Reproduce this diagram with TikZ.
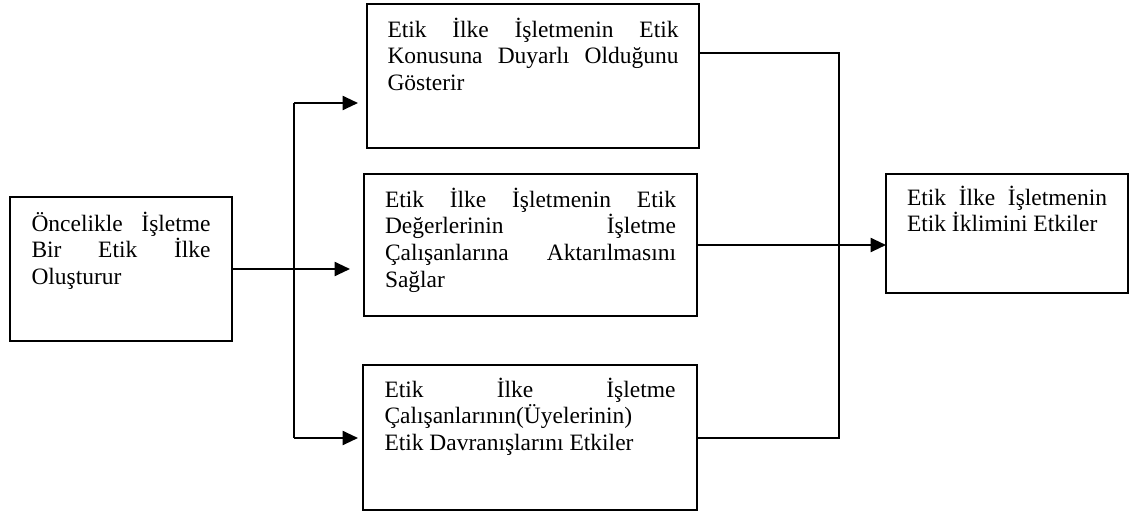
\documentclass[tikz,border=0pt]{standalone}
\usepackage{fontspec}
\setmainfont{Liberation Serif}
\usetikzlibrary{arrows.meta}
\hyphenpenalty=10000
\exhyphenpenalty=10000
\tikzset{
	stepbox/.style={draw, line width=1.5pt, anchor=north west, outer sep=0pt, inner ysep=0pt, font=\fontsize{17.6}{20}\selectfont},
	link/.style={line width=1.5pt},
	flow/.style={link, -{Triangle[length=11.5pt,width=10.5pt]}}
}
\begin{document}
\begin{tikzpicture}[x=0.75pt,y=-0.75pt]
			\newcommand{\boxtext}[4]{
				\parbox[t][#2][t]{#1}{\rule{0pt}{#3}#4}
			}
			\useasboundingbox (0,0) rectangle (1129,511);
			%Starting box on the left
			\node [stepbox, inner xsep=16.125pt] (start) at (10,197) {\boxtext{134.25pt}{108pt}{25.5pt}{Öncelikle İşletme\linebreak Bir Etik İlke\linebreak Oluşturur}};
			%The three middle boxes
			\node [stepbox, inner xsep=15.375pt] (ruleA) at (367,4) {\boxtext{218.25pt}{108pt}{24.75pt}{Etik İlke İşletmenin Etik\linebreak Konusuna Duyarlı Olduğunu\linebreak Gösterir}};
			\node [stepbox, inner xsep=15.75pt] (ruleB) at (364,174) {\boxtext{218.25pt}{106.5pt}{24.75pt}{Etik İlke İşletmenin Etik\linebreak Değerlerinin İşletme\linebreak Çalışanlarına Aktarılmasını\linebreak Sağlar}};
			\node [stepbox, inner xsep=16.125pt] (ruleC) at (363,365) {\boxtext{218.25pt}{108.75pt}{24pt}{Etik İlke İşletme\linebreak Çalışanlarının(Üyelerinin)\\Etik Davranışlarını Etkiler}};
			%Result box on the right
			\node [stepbox, inner xsep=15.75pt] (result) at (886,174) {\boxtext{150pt}{89.25pt}{23.25pt}{Etik İlke İşletmenin\linebreak Etik İklimini Etkiler}};
			%Split on the left side
			\coordinate (splitTop) at (294,103);
			\coordinate (splitBot) at (294,438);
			\draw [link] (splitTop) -- (splitBot);
			\draw [flow, shorten >=6.75pt] (splitTop) -- (splitTop -| ruleA.west);
			\draw [flow, shorten >=10.5pt] (start.east) -- (start.east -| ruleB.west);
			\draw [flow, shorten >=3.75pt] (splitBot) -- (splitBot -| ruleC.west);
			%Join on the right side
			\coordinate (joinTop) at (839,53);
			\coordinate (joinBot) at (839,438);
			\draw [link] (joinTop -| ruleA.east) -- (joinTop) -- (joinBot) -- (joinBot -| ruleC.east);
			\draw [flow] (ruleB.east) -- (ruleB.east -| result.west);
\end{tikzpicture}
\end{document}
